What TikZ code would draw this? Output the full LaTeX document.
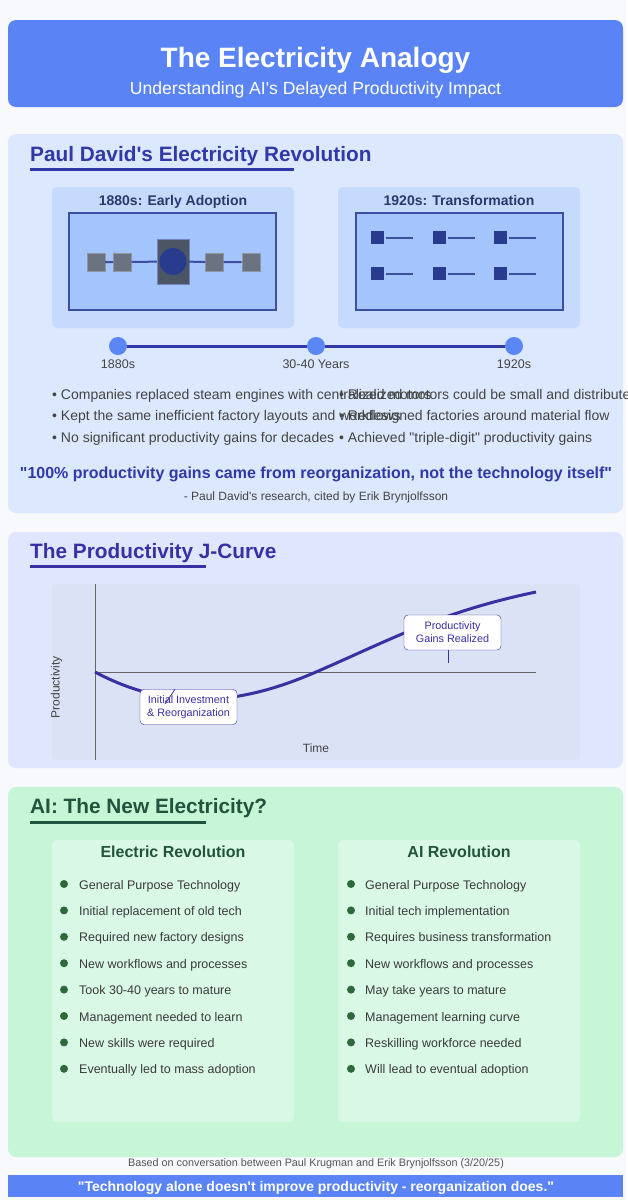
\documentclass[tikz,border=0pt]{standalone}
\usepackage{fontspec}
\setmainfont{Liberation Sans}[Ligatures=TeXOff]
\usetikzlibrary{positioning}

\definecolor{pagebg}{HTML}{F8F9FC}
\definecolor{headblue}{HTML}{5A84F6}
\definecolor{secblue}{HTML}{DBE8FE}
\definecolor{panelblue}{HTML}{C6DAFD}
\definecolor{innerblue}{HTML}{A3C4FD}
\definecolor{navy}{HTML}{3139A8}
\definecolor{framecol}{HTML}{3D4EA0}
\definecolor{darknavy}{HTML}{283B8F}
\definecolor{paneltext}{HTML}{263A6B}
\definecolor{machgray}{HTML}{6B7280}
\definecolor{slate}{HTML}{4B5563}
\definecolor{dotblue}{HTML}{5B86F5}
\definecolor{bodytext}{HTML}{444444}
\definecolor{seclav}{HTML}{E0E6FE}
\definecolor{chartbg}{HTML}{DCE2F5}
\definecolor{jindigo}{HTML}{3A30A3}
\definecolor{secgreen}{HTML}{C6F6D5}
\definecolor{colgreen}{HTML}{DAF8E6}
\definecolor{forest}{HTML}{22543D}
\definecolor{dotgreen}{HTML}{2D6A3A}
\definecolor{footgray}{HTML}{555555}

\begin{document}
\begin{tikzpicture}[x=1pt, y=-1pt,
    sec/.style={rounded corners=8pt},
    panel/.style={rounded corners=5pt},
    hd/.style={anchor=base, text=white, inner sep=0pt},
    ttl/.style={anchor=base west, inner sep=0pt, font=\bfseries\fontsize{20.8}{24}\selectfont},
    uline/.style={line width=3pt},
    ptitle/.style={anchor=base, inner sep=0pt, text=paneltext, font=\bfseries\fontsize{14}{17}\selectfont},
    screen/.style={draw=framecol, fill=innerblue, line width=1.2pt},
    mach/.style={fill=machgray, draw=machgray!75!white, minimum size=18pt, inner sep=0pt},
    hub/.style={fill=slate, draw=framecol!70, minimum width=32pt, minimum height=45pt, inner sep=0pt},
    msq/.style={fill=darknavy, minimum size=13pt, inner sep=0pt},
    wire/.style={draw=framecol, line width=2pt},
    tdot/.style={circle, fill=dotblue, minimum size=18pt, inner sep=0pt},
    tlab/.style={anchor=base, inner sep=0pt, text=bodytext, font=\fontsize{12.5}{15}\selectfont},
    pt/.style={anchor=base west, inner sep=0pt, text=bodytext, font=\fontsize{14}{17}\selectfont},
    axis/.style={draw=black!60, line width=0.8pt},
    curve/.style={draw=jindigo, line width=3pt},
    lbl/.style={draw=jindigo, fill=white, rounded corners=4pt, align=center, minimum width=97pt, minimum height=35pt, inner sep=1pt, text=jindigo, font=\fontsize{10.8}{13}\selectfont},
    pin/.style={draw=jindigo, line width=0.8pt},
    axlab/.style={inner sep=0pt, text=bodytext, font=\fontsize{12}{14}\selectfont},
    colhead/.style={anchor=base, inner sep=0pt, text=forest, font=\bfseries\fontsize{16}{19}\selectfont},
    gdot/.style={circle, fill=dotgreen, minimum size=8pt, inner sep=0pt},
    item/.style={anchor=base west, inner sep=0pt, text=bodytext!85!black, font=\fontsize{12.5}{15}\selectfont},
  ]
  \useasboundingbox (0,0) rectangle (627,1200);
  \fill[pagebg] (0,0) rectangle (627,1200);

  \fill[headblue, sec] (8,20) rectangle (623,107);
  \node[hd, font=\bfseries\fontsize{28}{32}\selectfont] (h1) at (315.5,67.5) {The Electricity Analogy};
  \node[hd, font=\fontsize{17.6}{20}\selectfont] (h2) at (315.5,94.5) {Understanding AI's Delayed Productivity Impact};

  \fill[secblue, sec] (8,134) rectangle (623,513);
  \node[ttl, text=navy] (s1) at (30,161) {Paul David's Electricity Revolution};
  \draw[uline, navy] (30,169) -- (294,169);
  \fill[panelblue, panel] (52,187) rectangle (294,328);
  \fill[panelblue, panel] (338,187) rectangle (580,328);
  \node[ptitle] (p1) at (173,205) {1880s: Early Adoption};
  \node[ptitle] (p2) at (459,205) {1920s: Transformation};
  \draw[screen] (69,213) rectangle (276,310);
  \draw[screen] (356,213) rectangle (563,310);

  \node[mach] (m1) at (96,262) {};
  \node[mach, right=8pt of m1] (m2) {};
  \node[hub] (hb) at (173,261.5) {};
  \node[circle, fill=darknavy, minimum size=27pt, inner sep=0pt] (mo) at (hb) {};
  \node[mach] (m3) at (214.5,262) {};
  \node[mach, right=18pt of m3] (m4) {};
  \draw[wire] (m1) -- (m2) -- (hb) -- (m3) -- (m4);

  \foreach \c [count=\i] in {377.5,439.5,500.5}
    \foreach \r [count=\j] in {237.5,273.5} {
      \node[msq] (q\i\j) at (\c,\r) {};
      \coordinate[right=29pt of q\i\j.east] (w\i\j);
      \draw[wire] ([xshift=2pt]q\i\j.east) -- (w\i\j);
    }

  \node[tdot] (t1) at (118,346) {};
  \node[tdot] (t2) at (316,346) {};
  \node[tdot] (t3) at (514,346) {};
  \draw[navy, line width=3pt] (t1) -- (t2) -- (t3);
  \node[tlab] (l1) at (118,368) {1880s};
  \node[tlab] (l2) at (316,368) {30-40 Years};
  \node[tlab] (l3) at (514,368) {1920s};

  \foreach \t [count=\i from 0] in {Companies replaced steam engines with centralized motors,
      Kept the same inefficient factory layouts and workflows,
      No significant productivity gains for decades}
    \node[pt] (b\i) at (52,{399+21.7*\i}) {• \t};
  \foreach \t [count=\i from 0] in {Realized motors could be small and distributed,
      Redesigned factories around material flow,
      Achieved "triple-digit" productivity gains}
    \node[pt] (c\i) at (339,{399+21.7*\i}) {• \t};

  \node[anchor=base, inner sep=0pt, text=navy, font=\bfseries\fontsize{16}{19}\selectfont] (qt) at (316,478)
    {"100\% productivity gains came from reorganization, not the technology itself"};
  \node[anchor=base, inner sep=0pt, text=bodytext, font=\fontsize{12}{14}\selectfont] (src) at (316,500)
    {- Paul David's research, cited by Erik Brynjolfsson};

  \fill[seclav, sec] (8,532) rectangle (623,768);
  \node[ttl, text=jindigo] (s2) at (30,558) {The Productivity J-Curve};
  \draw[uline, jindigo] (30,566) -- (206,566);
  \fill[chartbg, rounded corners=4pt] (52,584) rectangle (580,760);
  \coordinate (o) at (95,672);
  \coordinate (ytop) at (95,584);
  \coordinate (ybot) at (95,760);
  \coordinate (xend) at (536,672);
  \draw[axis] (ytop) -- (ybot);
  \draw[axis] (o) -- (xend);
  \draw[curve] (o) .. controls (170,712) and (240,705) .. (316,672)
    .. controls (390,640) and (440,612) .. (536,592);
  \node[lbl] (g1) at (452.5,632.5) {Productivity\\Gains Realized};
  \coordinate (k1) at (448,663);
  \draw[pin] (g1.south -| k1) -- (k1);
  \node[lbl] (g2) at (188.5,707) {Initial Investment\\\& Reorganization};
  \coordinate (k2) at (165,704);
  \draw[pin] ([xshift=-13.5pt]g2.north) -- (k2);
  \node[axlab, rotate=90] (ya) at (56.5,687) {Productivity};
  \node[axlab, anchor=base] (xa) at (316,752) {Time};

  \fill[secgreen, sec] (8,787) rectangle (623,1157);
  \node[ttl, text=forest] (s3) at (30,813) {AI: The New Electricity?};
  \draw[uline, forest] (30,822) -- (206,822);
  \fill[colgreen, panel] (52,840) rectangle (294,1122);
  \fill[colgreen, panel] (338,840) rectangle (580,1122);
  \node[colhead] (eh) at (173,857) {Electric Revolution};
  \node[colhead] (ah) at (459,857) {AI Revolution};
  \foreach \t [count=\i from 0] in {General Purpose Technology, Initial replacement of old tech,
      Required new factory designs, New workflows and processes, Took 30-40 years to mature,
      Management needed to learn, New skills were required, Eventually led to mass adoption} {
    \node[gdot] (ed\i) at (64,{884+26.4*\i}) {};
    \node[item] (el\i) at (79,{889+26.4*\i}) {\t};
  }
  \foreach \t [count=\i from 0] in {General Purpose Technology, Initial tech implementation,
      Requires business transformation, New workflows and processes, May take years to mature,
      Management learning curve, Reskilling workforce needed, Will lead to eventual adoption} {
    \node[gdot] (ad\i) at (351,{884+26.4*\i}) {};
    \node[item] (al\i) at (365,{889+26.4*\i}) {\t};
  }

  \node[anchor=base, inner sep=0pt, text=footgray, font=\fontsize{10.8}{13}\selectfont] (ft) at (316,1166)
    {Based on conversation between Paul Krugman and Erik Brynjolfsson (3/20/25)};
  \fill[headblue] (8,1175) rectangle (623,1197);
  \node[anchor=base, inner sep=0pt, text=white, font=\bfseries\fontsize{14}{17}\selectfont] (tag) at (316,1191)
    {"Technology alone doesn't improve productivity - reorganization does."};
\end{tikzpicture}
\end{document}
